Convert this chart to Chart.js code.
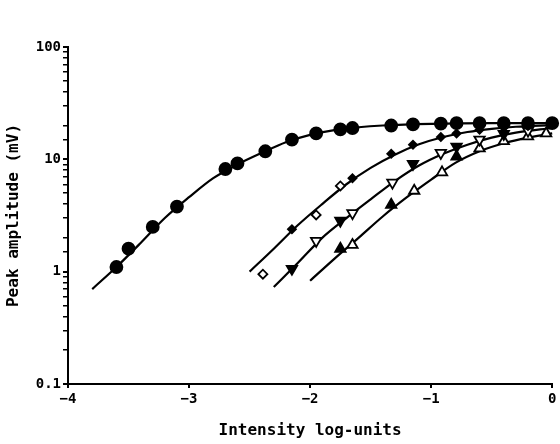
<!DOCTYPE html>
<html>
<head>
<meta charset="utf-8">
<script src="https://cdn.jsdelivr.net/npm/chart.js@4.4.0/dist/chart.umd.min.js"></script>
<style>
  html, body { margin: 0; padding: 0; background: #fff; }
  #wrap { width: 560px; height: 444px; }
</style>
</head>
<body>
<div id="wrap"><canvas id="chart"></canvas></div>
<script>
// data ==============================================================//

const xTicks = [-4, -3, -2, -1, 0];
const yTickLabels = ['0.1', '1', '10', '100'];

// filled circles
const circleX = [-3.6, -3.5, -3.3, -3.1, -2.7, -2.6, -2.37, -2.15, -1.95, -1.75, -1.65, -1.33, -1.15, -0.92, -0.79, -0.6, -0.4, -0.2, 0];
const circleY = [1.1, 1.6, 2.5, 3.8, 8.2, 9.2, 11.8, 15.0, 17.0, 18.5, 19.0, 20.0, 20.5, 20.8, 21.0, 21.0, 21.0, 21.0, 21.0];

// diamonds: filled and open
const diamondFillX = [-2.15, -1.65, -1.33, -1.15, -0.92, -0.79, -0.6, -0.4, -0.2];
const diamondFillY = [2.39, 6.8, 11.2, 13.5, 15.8, 17.0, 18.3, 19.2, 19.8];
const diamondOpenX = [-2.39, -1.95, -1.75];
const diamondOpenY = [0.95, 3.2, 5.8];

// triangles down: filled and open
const downFillX = [-2.15, -1.75, -1.15, -0.79, -0.4];
const downFillY = [1.06, 2.84, 9.1, 13.0, 16.8];
const downOpenX = [-1.95, -1.65, -1.32, -0.92, -0.6, -0.2];
const downOpenY = [1.88, 3.32, 6.2, 11.4, 15.0, 18.0];

// triangles up: filled and open
const upFillX = [-1.75, -1.33, -0.79];
const upFillY = [1.6, 3.94, 10.6];
const upOpenX = [-1.65, -1.14, -0.91, -0.6, -0.4, -0.2, -0.05];
const upOpenY = [1.73, 5.25, 7.65, 12.5, 14.5, 16.0, 17.0];

// fitted curves
const curve1X = [-3.8, -3.6, -3.4, -3.2, -3.0, -2.8, -2.6, -2.4, -2.2, -2.0, -1.8, -1.6, -1.4, -1.0, -0.5, 0];
const curve1Y = [0.7, 1.1, 1.8, 3.0, 4.6, 6.8, 9.0, 11.4, 14.2, 16.5, 18.2, 19.3, 20.0, 20.7, 21.0, 21.0];
const curve2X = [-2.5, -2.3, -2.1, -1.9, -1.7, -1.5, -1.3, -1.1, -0.9, -0.7, -0.5, -0.3, 0];
const curve2Y = [1.0, 1.6, 2.6, 4.0, 6.0, 8.4, 11.0, 13.6, 15.8, 17.5, 18.7, 19.5, 20.2];
const curve3X = [-2.3, -2.1, -1.9, -1.7, -1.5, -1.3, -1.1, -0.9, -0.7, -0.5, -0.3, 0];
const curve3Y = [0.73, 1.2, 2.0, 3.0, 4.4, 6.4, 8.8, 11.2, 13.5, 15.6, 17.3, 19.0];
const curve4X = [-2.0, -1.8, -1.6, -1.4, -1.2, -1.0, -0.8, -0.6, -0.4, -0.2, 0];
const curve4Y = [0.83, 1.3, 2.0, 3.1, 4.6, 6.6, 9.3, 11.8, 13.9, 15.6, 17.0];

// helpers =============================================================//

const pts = (xs, ys) => xs.map((x, i) => ({ x: x, y: ys[i] }));
const isDecade = v => Math.abs(Math.log10(v) - Math.round(Math.log10(v))) < 1e-6;

const markerSet = (xs, ys, style, filled, radius, rotation) => ({
    data: pts(xs, ys),
    showLine: false,
    pointStyle: style,
    pointRadius: radius,
    pointRotation: rotation || 0,
    pointBackgroundColor: filled ? '#000' : '#fff',
    pointBorderColor: '#000',
    pointBorderWidth: 1.8,
    clip: false,
    order: 0
});

const curveSet = (xs, ys) => ({
    data: pts(xs, ys),
    showLine: true,
    borderColor: '#000',
    borderWidth: 2.2,
    pointRadius: 0,
    cubicInterpolationMode: 'monotone',
    fill: false,
    clip: false,
    order: 1
});

// chart ===============================================================//

const FONT = 'DejaVu Sans Mono';

const ctx = document.getElementById('chart');

new Chart(ctx, {
    type: 'scatter',
    data: {
        datasets: [
            markerSet(circleX, circleY, 'circle', true, 6),
            markerSet(diamondFillX, diamondFillY, 'rectRot', true, 4),
            markerSet(diamondOpenX, diamondOpenY, 'rectRot', false, 4.5),
            markerSet(downFillX, downFillY, 'triangle', true, 6, 180),
            markerSet(downOpenX, downOpenY, 'triangle', false, 6, 180),
            markerSet(upFillX, upFillY, 'triangle', true, 6),
            markerSet(upOpenX, upOpenY, 'triangle', false, 6),
            curveSet(curve1X, curve1Y),
            curveSet(curve2X, curve2Y),
            curveSet(curve3X, curve3Y),
            curveSet(curve4X, curve4Y)
        ]
    },
    options: {
        responsive: true,
        maintainAspectRatio: false,
        animation: false,
        layout: { padding: { top: 47, right: 2, left: 0, bottom: 0 } },
        plugins: { legend: { display: false }, tooltip: { enabled: false } },
        scales: {
            x: {
                type: 'linear',
                min: -4,
                max: 0,
                afterBuildTicks: scale => { scale.ticks = xTicks.map(v => ({ value: v })); },
                afterFit: scale => { scale.height = 60; },
                border: { display: true, color: '#000', width: 2 },
                grid: { drawOnChartArea: false, drawTicks: true, tickLength: 4, color: '#000', lineWidth: 2 },
                ticks: {
                    color: '#000',
                    padding: 3,
                    font: { family: FONT, size: 14, weight: 'bold' },
                    callback: v => v < 0 ? '\u2212' + Math.abs(v) : String(v)
                },
                title: {
                    display: true,
                    text: 'Intensity log-units',
                    color: '#000',
                    font: { family: FONT, size: 16, weight: 'bold' },
                    padding: { top: 0, bottom: 4 }
                }
            },
            y: {
                type: 'logarithmic',
                min: 0.1,
                max: 100,
                afterFit: scale => { scale.width = 68; },
                border: { display: true, color: '#000', width: 2 },
                grid: {
                    drawOnChartArea: false,
                    drawTicks: true,
                    tickLength: 5,
                    color: '#000',
                    lineWidth: c => isDecade(c.tick.value) ? 2 : 1.5
                },
                ticks: {
                    autoSkip: false,
                    color: '#000',
                    padding: 2,
                    font: { family: FONT, size: 14, weight: 'bold' },
                    callback: v => isDecade(v) ? yTickLabels[Math.round(Math.log10(v)) + 1] : ''
                },
                title: {
                    display: true,
                    text: 'Peak amplitude (mV)',
                    color: '#000',
                    font: { family: FONT, size: 16, weight: 'bold' },
                    padding: { top: 4, bottom: 0 }
                }
            }
        }
    }
});
</script>
</body>
</html>
